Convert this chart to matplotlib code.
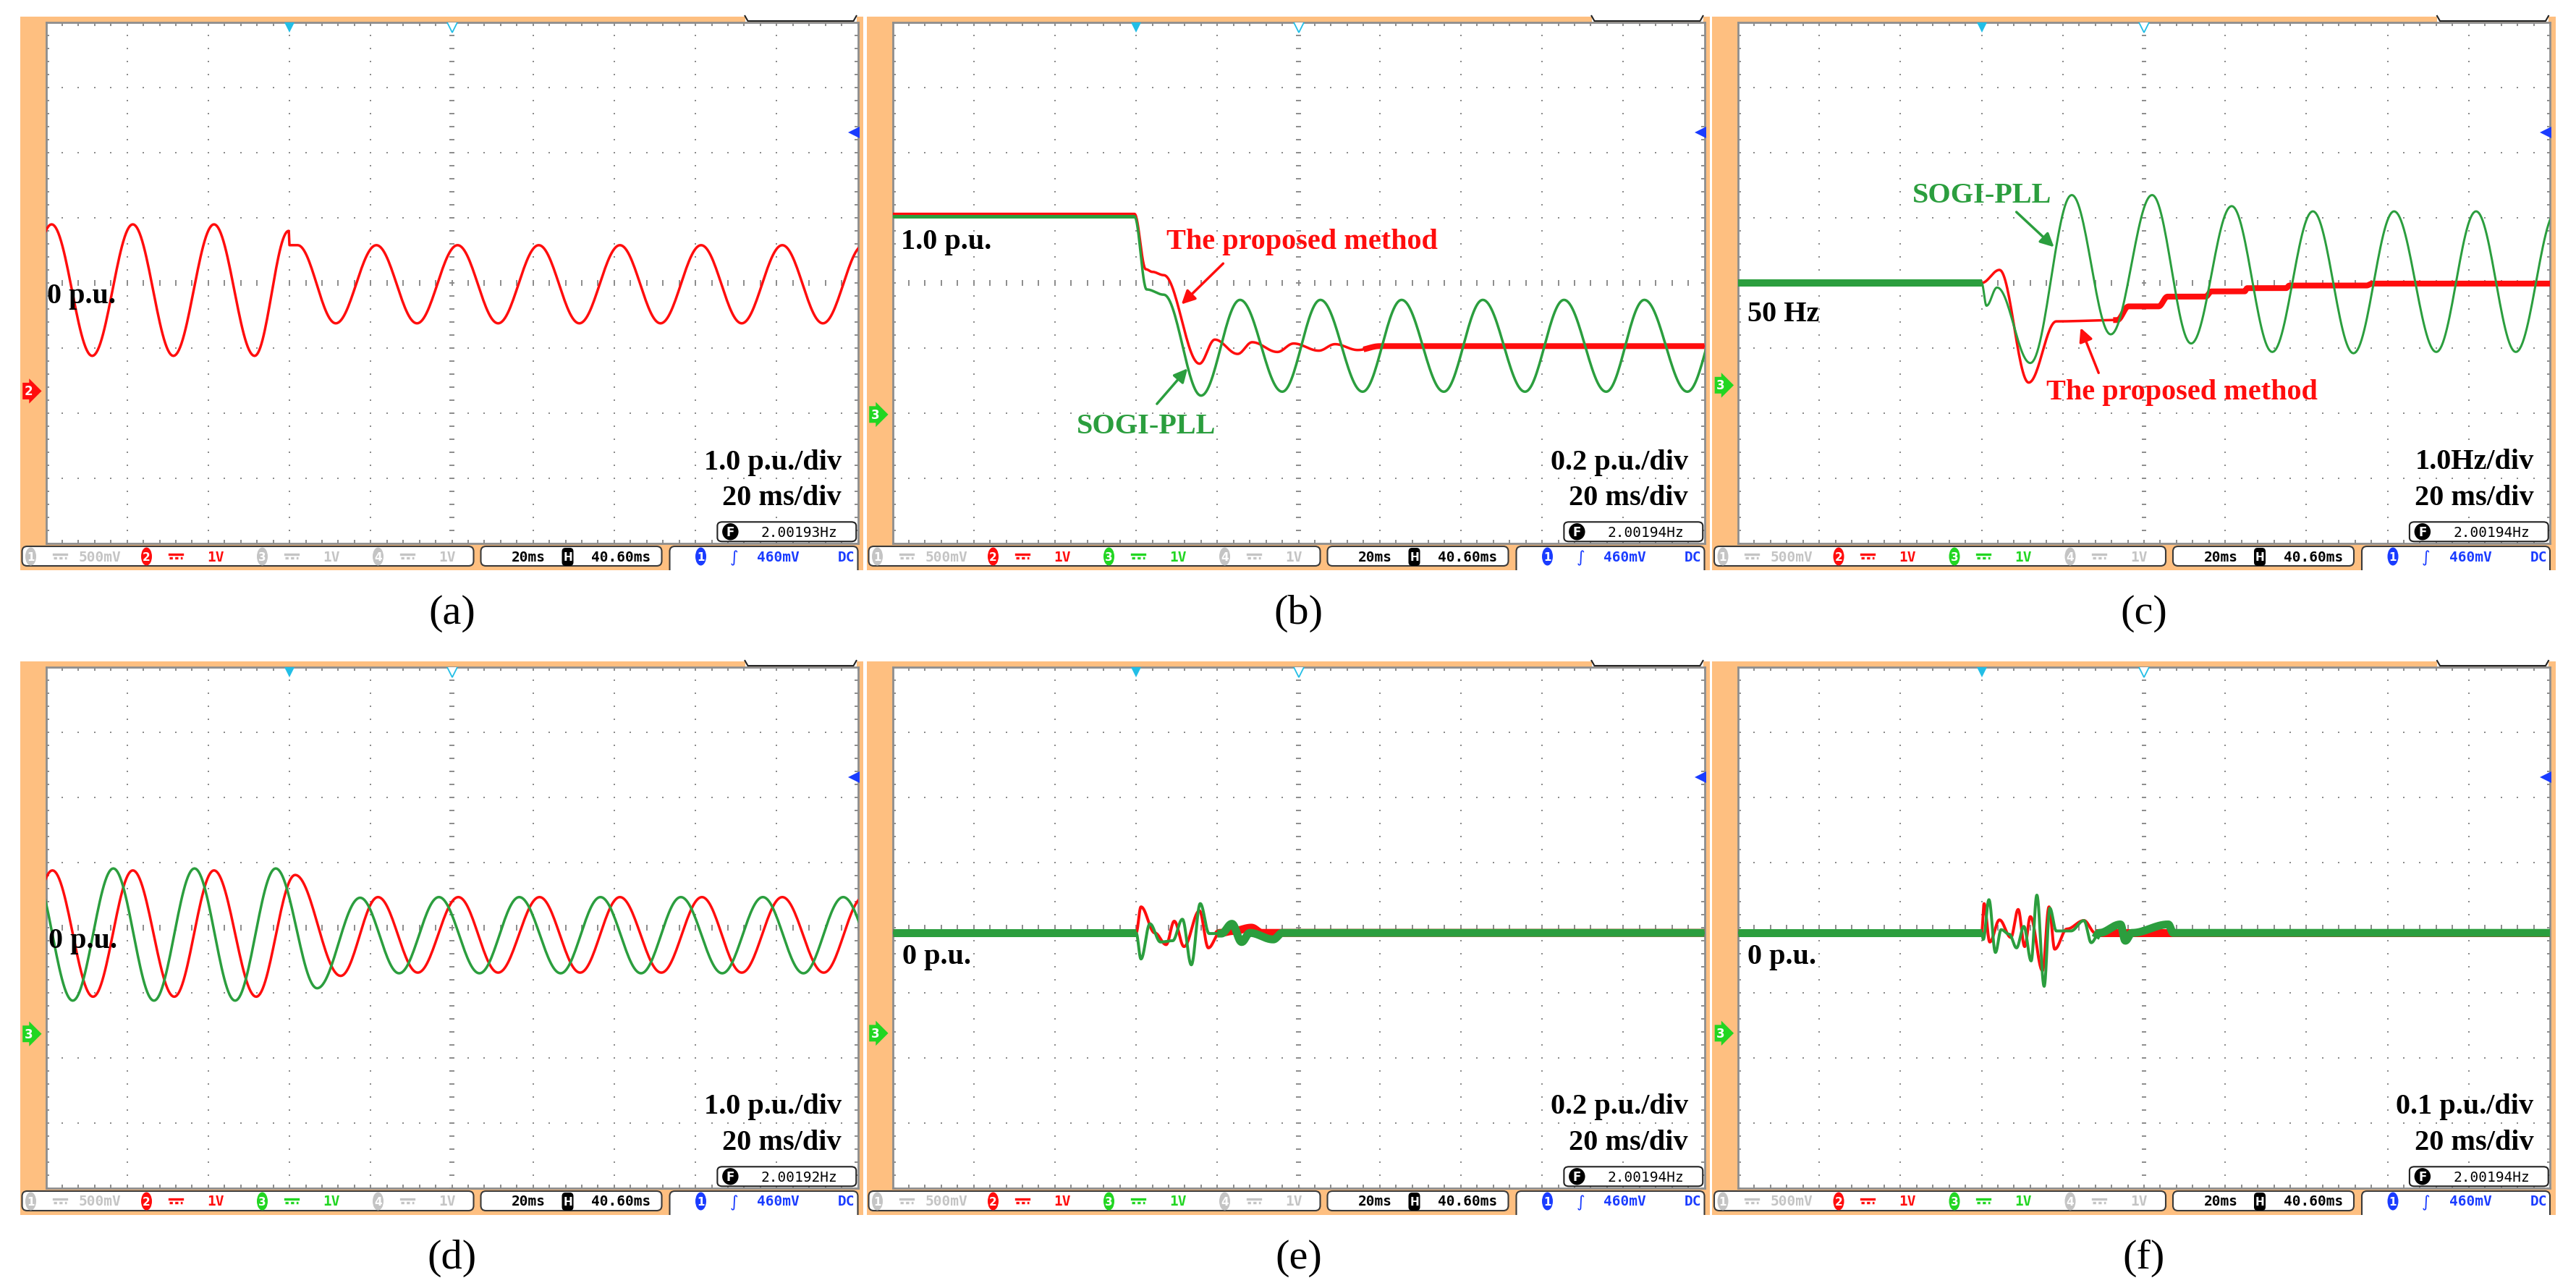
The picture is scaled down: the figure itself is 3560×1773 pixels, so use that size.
import numpy as np
import matplotlib.pyplot as plt
from matplotlib.patches import FancyBboxPatch, Rectangle, Ellipse

W, H = 3560, 1774
ORANGE = '#FEBF80'
RED = '#FF0D0D'
GREEN = '#2B9E3E'
GRAY = '#C4C4C4'
BLUE = '#1A3CFF'
CYAN = '#22BEE6'
LIME = '#22D622'
GRID = '#8C8C8C'
SERIF = ['Liberation Serif', 'DejaVu Serif']
MONO = 'DejaVu Sans Mono'

# ---- trace knots read off the scope screens ----
# x: divisions (20 ms/div, 0..10), y: divisions (0 = screen centre, -4..4)
a_red_x = [-0.43, 0.07, 0.57, 1.07, 1.57, 2.07, 2.57, 2.99, 3.00, 3.10, 3.57, 4.07, 4.57, 5.07,
           5.57, 6.07, 6.57, 7.07, 7.57, 8.07, 8.57, 9.07, 9.57, 10.07]
a_red_y = [-1.12, 0.90, -1.12, 0.90, -1.12, 0.90, -1.12, 0.80, 0.58, 0.58, -0.62, 0.58, -0.62, 0.58,
           -0.62, 0.58, -0.62, 0.58, -0.62, 0.58, -0.62, 0.58, -0.62, 0.58]

b_red_x = [0, 2.98, 3.12, 3.20, 3.34, 3.78, 3.97, 4.25, 4.43, 4.74, 4.94, 5.25, 5.45, 5.73, 6.0, 10]
b_red_y = [1.06, 1.06, 0.21, 0.17, 0.12, -1.24, -0.87, -1.09, -0.91, -1.06, -0.93, -1.04, -0.94, -1.03,
           -0.97, -0.97]
b_green_x = [0, 2.98, 3.13, 3.34, 3.80, 4.28, 4.80, 5.27, 5.79, 6.27, 6.79, 7.27, 7.79, 8.27, 8.79,
             9.26, 9.79, 10.27]
b_green_y = [1.02, 1.02, -0.10, -0.18, -1.73, -0.26, -1.67, -0.26, -1.67, -0.26, -1.67, -0.26, -1.67,
             -0.26, -1.67, -0.26, -1.67, -0.26]

c_red_x = [0, 3.0, 3.22, 3.58, 3.92, 4.67, 4.81, 5.18, 5.29, 5.76, 5.83, 6.24, 6.27, 6.75, 6.79,
           7.74, 7.81, 10]
c_red_y = [0, 0, 0.20, -1.53, -0.59, -0.57, -0.36, -0.36, -0.21, -0.21, -0.13, -0.13, -0.08, -0.08,
           -0.04, -0.04, -0.01, -0.01]
c_green_x = [0, 3.0, 3.06, 3.19, 3.60, 4.11, 4.59, 5.10, 5.58, 6.08, 6.58, 7.08, 7.58, 8.08, 8.60,
             9.09, 9.58, 10.08]
c_green_y = [0, 0, -0.35, -0.07, -1.23, 1.35, -0.79, 1.35, -0.93, 1.18, -1.06, 1.10, -1.08, 1.10,
             -1.06, 1.10, -1.06, 1.10]

d_red_x = [-0.42, 0.08, 0.58, 1.07, 1.58, 2.07, 2.59, 3.07, 3.63, 4.09, 4.58, 5.08, 5.57, 6.08,
           6.58, 7.07, 7.58, 8.08, 8.57, 9.07, 9.58, 10.07]
d_red_y = [-1.06, 0.88, -1.06, 0.88, -1.06, 0.88, -1.06, 0.81, -0.74, 0.47, -0.69, 0.47, -0.69, 0.47,
           -0.69, 0.47, -0.69, 0.47, -0.69, 0.47, -0.69, 0.47]
d_green_x = [-0.17, 0.33, 0.83, 1.33, 1.83, 2.33, 2.83, 3.34, 3.87, 4.35, 4.84, 5.34, 5.83, 6.34,
             6.83, 7.33, 7.82, 8.33, 8.83, 9.33, 9.82, 10.32]
d_green_y = [0.91, -1.12, 0.91, -1.12, 0.91, -1.12, 0.91, -0.93, 0.46, -0.70, 0.47, -0.70, 0.47, -0.70,
             0.47, -0.70, 0.47, -0.70, 0.47, -0.70, 0.47, -0.70]

e_red_x = [0, 3.00, 3.06, 3.23, 3.37, 3.47, 3.59, 3.78, 3.89, 4.03, 4.20, 4.42, 4.55, 10]
e_red_y = [-0.08, -0.08, 0.32, -0.08, -0.26, 0.10, -0.29, 0.26, -0.31, -0.08, -0.05, 0.00, -0.08, -0.08]
e_green_x = [0, 3.00, 3.06, 3.17, 3.30, 3.45, 3.57, 3.68, 3.79, 3.90, 4.05, 4.18, 4.30, 4.40, 4.69,
             4.80, 10]
e_green_y = [-0.08, -0.08, -0.48, 0.06, -0.22, -0.20, 0.13, -0.57, 0.37, -0.09, -0.09, 0.06, -0.22,
             -0.08, -0.18, -0.08, -0.08]

f_red_x = [0, 3.00, 3.03, 3.10, 3.22, 3.36, 3.45, 3.53, 3.60, 3.75, 3.83, 3.90, 4.05, 4.26, 4.40, 10]
f_red_y = [-0.08, -0.08, 0.37, -0.22, 0.12, -0.15, 0.28, -0.29, 0.17, -0.66, 0.32, -0.33, -0.02, 0.11,
           -0.08, -0.08]
f_green_x = [0, 3.00, 3.02, 3.09, 3.17, 3.24, 3.34, 3.43, 3.52, 3.61, 3.68, 3.77, 3.84, 3.92, 4.10,
             4.26, 4.35, 4.45, 4.71, 4.77, 4.85, 5.30, 5.36, 10]
f_green_y = [-0.08, -0.08, -0.18, 0.43, -0.38, -0.03, -0.10, -0.31, 0.02, -0.51, 0.50, -0.90, 0.30,
             -0.05, -0.05, 0.11, -0.23, -0.08, 0.05, -0.20, -0.08, 0.05, -0.08, -0.08]

# ---- screen texts ----
panel_labels = ['(a)', '(b)', '(c)', '(d)', '(e)', '(f)']
volts_per_div = ['1.0 p.u./div', '0.2 p.u./div', '1.0Hz/div', '1.0 p.u./div', '0.2 p.u./div', '0.1 p.u./div']
time_per_div = '20 ms/div'
freq_readout = ['2.00193Hz', '2.00194Hz', '2.00194Hz', '2.00192Hz', '2.00194Hz', '2.00194Hz']
ch3_on = [False, True, True, True, True, True]
ch_volts = ['500mV', '1V', '1V', '1V']
timebase, delay, trig_level, coupling = '20ms', '40.60ms', '460mV', 'DC'

# layout (pixels)
PLOT_LEFT = [63.5, 1233.5, 2402]
PLOT_TOP = [32, 923]
PW, PH = 1122, 720
marker_lvl = [-1.66, -2.02, -1.57, -1.63, -1.62, -1.62]

fig = plt.figure(figsize=(W / 100, H / 100), dpi=100)
fig.patch.set_facecolor('white')


def px_axes(x, y, w, h):
    return fig.add_axes([x / W, 1 - (y + h) / H, w / W, h / H])


def add_rect(x, y, w, h, fc, z=-2):
    fig.add_artist(Rectangle((x / W, 1 - (y + h) / H), w / W, h / H, transform=fig.transFigure,
                             fc=fc, ec='none', zorder=z))


def fig_line(xs, ys, **kw):
    fig.add_artist(plt.Line2D([x / W for x in xs], [1 - y / H for y in ys],
                              transform=fig.transFigure, **kw))


def ease(xs, ys, n=30):
    # join the read knots with half-cosine segments
    px, py = [xs[0]], [ys[0]]
    for x0, x1, y0, y1 in zip(xs[:-1], xs[1:], ys[:-1], ys[1:]):
        t = np.linspace(0, 1, n + 1)[1:]
        px.extend(x0 + (x1 - x0) * t)
        py.extend(y0 + (y1 - y0) * (1 - np.cos(np.pi * t)) / 2)
    return np.array(px), np.array(py)


def trace(ax, xs, ys, color, lw, bands=()):
    x, y = ease(xs, ys)
    ax.plot(x, y, color=color, lw=lw, solid_joinstyle='round', zorder=5)
    for x0, x1, blw in bands:
        m = (x >= x0) & (x <= x1)
        ax.plot(x[m], y[m], color=color, lw=blw, solid_capstyle='butt', zorder=5)


def screen(i):
    col, row = i % 3, i // 3
    L, T = PLOT_LEFT[col], PLOT_TOP[row]
    add_rect(L - 36, T - 8, PW + 43.5, PH + 45, ORANGE)
    # white notch at the top right of the bezel
    add_rect(L + PW - 156, T - 9, 154, 8, 'white', z=-1)
    fig_line([L + PW - 156, L + PW - 152, L + PW - 6, L + PW - 2],
             [T - 9, T - 2, T - 2, T - 9], color='#222222', lw=1.5, zorder=-0.5)
    # channel marker on the left bezel
    ch = '2' if i == 0 else '3'
    fig.text((L - 24) / W, 1 - (T + (4 - marker_lvl[i]) * PH / 8) / H, ch, ha='center', va='center',
             color='white', fontsize=12, fontweight='bold',
             bbox=dict(boxstyle='rarrow,pad=0.15', fc=RED if i == 0 else LIME, ec='none'))

    ax = px_axes(L, T, PW, PH)
    ax.set_xlim(0, 10)
    ax.set_ylim(-4, 4)
    ax.set_xticks([])
    ax.set_yticks([])
    for s in ax.spines.values():
        s.set_color('#8E8E8E')
        s.set_linewidth(2)
    fx = np.arange(0, 10.001, 0.2)
    fy = np.arange(-4, 4.001, 0.2)
    dot = dict(ls='none', marker='s', ms=2, mew=0, color=GRID, zorder=1)
    for gx in [1, 2, 3, 4, 6, 7, 8, 9]:
        ax.plot(np.full(fy.size, gx), fy, **dot)
    for gy in [-3, -2, -1, 1, 2, 3]:
        ax.plot(fx, np.full(fx.size, gy), **dot)
    ax.hlines(fy, 4.97, 5.03, color=GRID, lw=1.4, zorder=1)
    ax.vlines(fx, -0.04, 0.04, color=GRID, lw=1.4, zorder=1)
    ax.vlines(fx, 3.94, 4, color=GRID, lw=1.4, zorder=1)
    ax.vlines(fx, -4, -3.94, color=GRID, lw=1.4, zorder=1)
    ax.hlines(fy, 0, 0.04, color=GRID, lw=1.4, zorder=1)
    ax.hlines(fy, 9.96, 10, color=GRID, lw=1.4, zorder=1)
    # trigger / level markers
    ax.plot(3, 3.93, marker='v', ms=12, color=CYAN, mew=0, zorder=7)
    ax.plot(5, 3.93, marker='v', ms=12, mfc='white', mec=CYAN, mew=1.3, zorder=7)
    ax.plot(9.95, 2.31, marker='<', ms=12, color=BLUE, mew=0, zorder=7, clip_on=False)
    # frequency readout
    ax.add_patch(FancyBboxPatch((8.27, -3.97), 1.71, 0.30, boxstyle='round,pad=0,rounding_size=0.06',
                                fc='white', ec='#222222', lw=1.5, zorder=8))
    ax.add_patch(Ellipse((8.43, -3.82), 0.2, 0.26, fc='black', ec='none', zorder=9))
    ax.text(8.43, -3.82, 'F', color='white', ha='center', va='center', fontsize=12,
            fontweight='bold', zorder=10)
    ax.text(9.28, -3.83, freq_readout[i], ha='center', va='center', family=MONO, fontsize=14,
            zorder=10)
    # scale annotations
    ann = dict(ha='right', va='baseline', family=SERIF, fontweight='bold', fontsize=29, zorder=10)
    ax.text(9.8, -2.85, volts_per_div[i], **ann)
    ax.text(9.8, -3.40, time_per_div, **ann)

    # status bar
    sa = px_axes(L - 36, T + PH, PW + 43.5, 37)
    sa.set_xlim(-36, PW + 7.5)
    sa.set_ylim(37, 0)
    sa.axis('off')
    box = dict(fc='white', ec='#3A3A3A', lw=1.5)
    sa.add_patch(FancyBboxPatch((-33, 4), 624, 27, boxstyle='round,pad=0,rounding_size=7', **box))
    sa.add_patch(FancyBboxPatch((601, 4), 250, 27, boxstyle='round,pad=0,rounding_size=7', **box))
    sa.add_patch(FancyBboxPatch((862, 4), 260, 40, boxstyle='round,pad=0,rounding_size=7', **box))
    cols = [GRAY, RED, LIME if ch3_on[i] else GRAY, GRAY]
    txt = dict(ha='center', va='center', family=MONO, fontsize=14, fontweight='bold')
    for k in range(4):
        x0 = -21 + k * 160
        sa.add_patch(Ellipse((x0, 18), 15, 25, fc=cols[k], ec='none'))
        sa.text(x0, 18.5, str(k + 1), color='white', ha='center', va='center', fontsize=11,
                fontweight='bold')
        sa.plot([x0 + 31, x0 + 49], [15, 15], color=cols[k], lw=2.4)
        sa.plot([x0 + 31, x0 + 49], [20, 20], color=cols[k], lw=2.4, ls=(0, (1.3, 1)))
        sa.text(x0 + 95, 18, ch_volts[k], color=cols[k], **txt)
    sa.text(667, 18, timebase, color='black', **txt)
    sa.add_patch(FancyBboxPatch((713, 6), 16, 25, boxstyle='round,pad=0,rounding_size=5',
                                fc='black', ec='none'))
    sa.text(721, 18.5, 'H', color='white', ha='center', va='center', fontsize=11, fontweight='bold')
    sa.text(795, 18, delay, color='black', **txt)
    sa.add_patch(Ellipse((905, 18), 15, 25, fc=BLUE, ec='none'))
    sa.text(905, 18.5, '1', color='white', ha='center', va='center', fontsize=11, fontweight='bold')
    sa.text(951, 19, '∫', color=BLUE, ha='center', va='center', fontsize=16)
    sa.text(1012, 18, trig_level, color=BLUE, **txt)
    sa.text(1106, 18, coupling, color=BLUE, **txt)

    fig.text((L + PW / 2) / W, 1 - (T + PH + 96) / H, panel_labels[i], ha='center', va='center',
             family=SERIF, fontsize=42)
    return ax


axs = [screen(i) for i in range(6)]
lab = dict(family=SERIF, fontweight='bold', fontsize=29, va='baseline', zorder=10)
px = 0.72  # points per pixel

# (a)
trace(axs[0], a_red_x, a_red_y, RED, 3.5 * px)
axs[0].text(0.01, -0.30, '0 p.u.', color='black', **lab)

# (b)
trace(axs[1], b_red_x, b_red_y, RED, 3.5 * px, [(0, 2.98, 5 * px), (5.8, 10, 8 * px)])
trace(axs[1], b_green_x, b_green_y, GREEN, 3.5 * px, [(0, 2.98, 5 * px)])
axs[1].text(0.10, 0.53, '1.0 p.u.', color='black', **lab)
axs[1].text(3.37, 0.53, 'The proposed method', color=RED, **lab)
axs[1].text(2.27, -2.30, 'SOGI-PLL', color=GREEN, **lab)
axs[1].annotate('', xy=(3.54, -0.35), xytext=(4.09, 0.32),
                arrowprops=dict(arrowstyle='-|>', color=RED, lw=2.5, mutation_scale=28), zorder=10)
axs[1].annotate('', xy=(3.65, -1.29), xytext=(3.24, -1.88),
                arrowprops=dict(arrowstyle='-|>', color=GREEN, lw=2.5, mutation_scale=28), zorder=10)

# (c)
trace(axs[2], c_red_x, c_red_y, RED, 3.5 * px, [(4.6, 10, 8 * px)])
trace(axs[2], c_green_x, c_green_y, GREEN, 3 * px, [(0, 3.0, 10 * px)])
axs[2].text(0.12, -0.58, '50 Hz', color='black', **lab)
axs[2].text(2.15, 1.25, 'SOGI-PLL', color=GREEN, **lab)
axs[2].text(3.80, -1.78, 'The proposed method', color=RED, **lab)
axs[2].annotate('', xy=(3.91, 0.53), xytext=(3.41, 1.11),
                arrowprops=dict(arrowstyle='-|>', color=GREEN, lw=2.5, mutation_scale=28), zorder=10)
axs[2].annotate('', xy=(4.21, -0.66), xytext=(4.45, -1.41),
                arrowprops=dict(arrowstyle='-|>', color=RED, lw=2.5, mutation_scale=28), zorder=10)

# (d)
trace(axs[3], d_red_x, d_red_y, RED, 3.5 * px)
trace(axs[3], d_green_x, d_green_y, GREEN, 3.5 * px)
axs[3].text(0.03, -0.30, '0 p.u.', color='black', **lab)

# (e)
trace(axs[4], e_red_x, e_red_y, RED, 4 * px, [(0, 3.0, 11 * px), (4.0, 10, 11 * px)])
trace(axs[4], e_green_x, e_green_y, GREEN, 4 * px, [(0, 3.0, 11 * px), (4.0, 10, 11 * px)])
axs[4].text(0.12, -0.55, '0 p.u.', color='black', **lab)

# (f)
trace(axs[5], f_red_x, f_red_y, RED, 4 * px, [(0, 3.0, 11 * px), (4.4, 10, 11 * px)])
trace(axs[5], f_green_x, f_green_y, GREEN, 4 * px, [(0, 3.0, 11 * px), (4.4, 10, 11 * px)])
axs[5].text(0.12, -0.55, '0 p.u.', color='black', **lab)

fig.savefig('out.png', dpi=100, facecolor='white')
